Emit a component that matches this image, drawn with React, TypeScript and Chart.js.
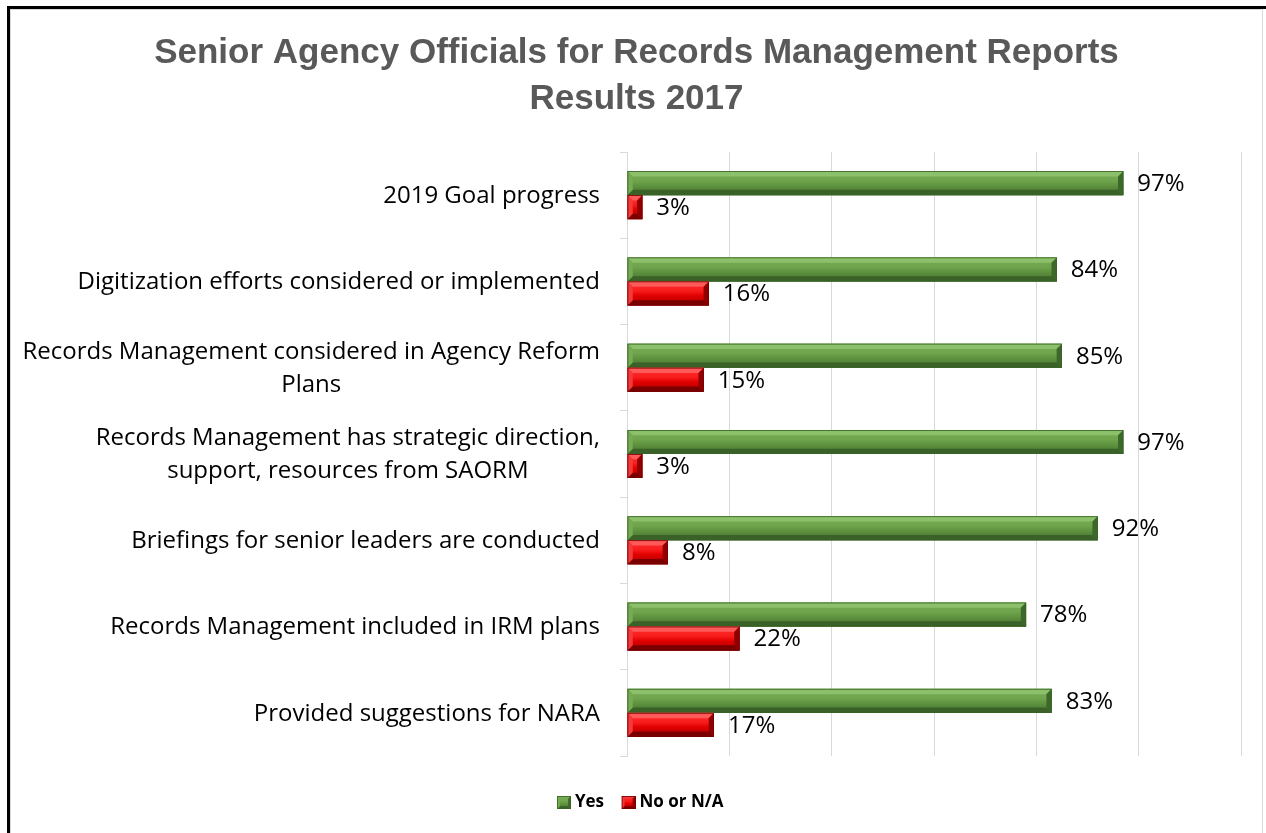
import React, { useEffect, useRef } from 'react';
import { Chart, registerables } from 'chart.js';

Chart.register(...registerables);

const titleLines = ['Senior Agency Officials for Records Management Reports', 'Results 2017'];
const categories: string[][] = [
  ['2019 Goal progress'],
  ['Digitization efforts considered or implemented'],
  ['Records Management considered in Agency Reform', 'Plans'],
  ['Records Management has strategic direction,', 'support, resources from SAORM'],
  ['Briefings for senior leaders are conducted'],
  ['Records Management included in IRM plans'],
  ['Provided suggestions for NARA'],
];
const seriesNames = ['Yes', 'No or N/A'];
const yesValues = [97, 84, 85, 97, 92, 78, 83];
const noValues = [3, 16, 15, 3, 8, 22, 17];
const xMin = 0;
const xMax = 120;
const xStep = 20;

type Pal = {
  top: string; hi: string; face: string; bottom: string;
  bevTop: string; bevBottom: string; bevLeft: string; bevRight: string; edge: string;
};

const greenPal: Pal = {
  top: '#78ad55', hi: '#6fa44d', face: '#5f933f', bottom: '#456f30',
  bevTop: '#8cc06a', bevBottom: '#3a6228', bevLeft: '#76aa53', bevRight: '#3d672b', edge: '#3a6326',
};
const redPal: Pal = {
  top: '#ff3030', hi: '#f81c1c', face: '#e00000', bottom: '#a80000',
  bevTop: '#ff5a5a', bevBottom: '#7a0000', bevLeft: '#f23a3a', bevRight: '#900000', edge: '#730000',
};
const pals = [greenPal, redPal];

function drawBevel(ctx: CanvasRenderingContext2D, L: number, T: number, W: number, H: number, p: Pal) {
  if (W <= 0 || H <= 0) return;
  const b = Math.min(H * 0.22, W / 2);
  ctx.save();
  const g = ctx.createLinearGradient(0, T, 0, T + H);
  g.addColorStop(0, p.top);
  g.addColorStop(0.4, p.hi);
  g.addColorStop(0.6, p.face);
  g.addColorStop(1, p.bottom);
  ctx.fillStyle = g;
  ctx.fillRect(L, T, W, H);
  const poly = (pts: number[][], c: string) => {
    ctx.beginPath();
    ctx.moveTo(pts[0][0], pts[0][1]);
    for (let i = 1; i < pts.length; i++) ctx.lineTo(pts[i][0], pts[i][1]);
    ctx.closePath();
    ctx.fillStyle = c;
    ctx.fill();
  };
  const R = L + W, B = T + H;
  poly([[L, T], [R, T], [R - b, T + b], [L + b, T + b]], p.bevTop);
  poly([[L, B], [R, B], [R - b, B - b], [L + b, B - b]], p.bevBottom);
  poly([[L, T], [L + b, T + b], [L + b, B - b], [L, B]], p.bevLeft);
  poly([[R, T], [R - b, T + b], [R - b, B - b], [R, B]], p.bevRight);
  ctx.strokeStyle = p.edge;
  ctx.lineWidth = 0.8;
  ctx.strokeRect(L + 0.4, T + 0.4, W - 0.8, H - 0.8);
  ctx.restore();
}

function makeIcon(p: Pal): HTMLCanvasElement {
  const c = document.createElement('canvas');
  c.width = 26;
  c.height = 13;
  const ctx = c.getContext('2d');
  if (ctx) drawBevel(ctx, 12, 0, 14, 13, { ...p, bevTop: p.bevLeft });
  return c;
}

const bevelPlugin = {
  id: 'bevelBars',
  afterDatasetsDraw(chart: any) {
    const ctx = chart.ctx;
    chart.data.datasets.forEach((ds: any, di: number) => {
      const meta = chart.getDatasetMeta(di);
      if (meta.hidden) return;
      meta.data.forEach((el: any) => {
        const { x, y, base, height } = el.getProps(['x', 'y', 'base', 'height'], true);
        const L = Math.min(x, base);
        const W = Math.abs(x - base);
        drawBevel(ctx, L, y - height / 2, W, height, pals[di]);
      });
    });
  },
};

const valueLabelPlugin = {
  id: 'valueLabels',
  afterDatasetsDraw(chart: any) {
    const ctx = chart.ctx;
    ctx.save();
    ctx.font = '24px "Open Sans", sans-serif';
    ctx.fillStyle = '#000000';
    ctx.textAlign = 'left';
    ctx.textBaseline = 'middle';
    chart.data.datasets.forEach((ds: any, di: number) => {
      const meta = chart.getDatasetMeta(di);
      meta.data.forEach((el: any, i: number) => {
        const { x, y } = el.getProps(['x', 'y'], true);
        ctx.fillText(ds.data[i] + '%', x + 14, y + 1);
      });
    });
    ctx.restore();
  },
};

const categoryLabelPlugin = {
  id: 'categoryLabels',
  afterDraw(chart: any) {
    const ctx = chart.ctx;
    const yScale = chart.scales.y;
    const right = chart.chartArea.left - 27;
    const lineH = 33;
    ctx.save();
    ctx.font = '24px "Open Sans", sans-serif';
    ctx.fillStyle = '#000000';
    ctx.textAlign = 'center';
    ctx.textBaseline = 'middle';
    categories.forEach((lines, i) => {
      const cy = yScale.getPixelForValue(i) + 1;
      const maxW = Math.max(...lines.map((l) => ctx.measureText(l).width));
      const cx = right - maxW / 2;
      const y0 = cy - ((lines.length - 1) * lineH) / 2;
      lines.forEach((l, k) => ctx.fillText(l, cx, y0 + k * lineH));
    });
    ctx.restore();
  },
};

export default function App() {
  const ref = useRef<HTMLCanvasElement | null>(null);

  useEffect(() => {
    if (!ref.current) return;
    const icons = [makeIcon(greenPal), makeIcon(redPal)];
    const chart = new Chart(ref.current, {
      type: 'bar',
      data: {
        labels: categories.map((c) => c.join(' ')),
        datasets: [
          { label: seriesNames[0], data: yesValues, backgroundColor: greenPal.face, borderWidth: 0, categoryPercentage: 0.556, barPercentage: 1 },
          { label: seriesNames[1], data: noValues, backgroundColor: redPal.face, borderWidth: 0, categoryPercentage: 0.556, barPercentage: 1 },
        ],
      },
      options: {
        indexAxis: 'y',
        animation: false,
        responsive: false,
        maintainAspectRatio: false,
        layout: { padding: { left: 22, right: 22, top: 0, bottom: 12 } },
        scales: {
          x: {
            min: xMin,
            max: xMax,
            ticks: { display: false, stepSize: xStep },
            grid: { color: '#d9d9d9', drawTicks: false, lineWidth: 1 },
            border: { display: false },
            afterFit: (s: any) => { s.height = 28; },
          },
          y: {
            ticks: { display: false },
            grid: { drawOnChartArea: false, tickLength: 7, color: '#d9d9d9', offset: true },
            border: { display: true, color: '#d9d9d9', width: 1 },
            afterFit: (s: any) => { s.width = 595; },
          },
        },
        plugins: {
          title: {
            display: true,
            text: titleLines,
            color: '#595959',
            font: { family: '"Liberation Sans", Arial, sans-serif', size: 35, weight: 'bold', lineHeight: 1.3 },
            padding: { top: 22, bottom: 30 },
          },
          legend: {
            position: 'bottom',
            labels: {
              usePointStyle: true,
              color: '#595959',
              font: { family: '"Open Sans", sans-serif', size: 17, weight: 'bold' },
              padding: 10,
              generateLabels: (ch: any) =>
                ch.data.datasets.map((ds: any, i: number) => ({
                  text: ds.label,
                  fillStyle: ds.backgroundColor,
                  strokeStyle: ds.backgroundColor,
                  lineWidth: 0,
                  pointStyle: icons[i],
                  hidden: false,
                  datasetIndex: i,
                })),
            },
          },
          tooltip: { enabled: false },
        },
      },
      plugins: [bevelPlugin, valueLabelPlugin, categoryLabelPlugin],
    });
    return () => chart.destroy();
  }, []);

  return (
    <div style={{ position: 'fixed', left: 0, top: 0, width: 1266, height: 833, background: '#ffffff', overflow: 'hidden' }}>
      <div style={{ position: 'absolute', left: 7, top: 6, width: 1262, height: 850, border: '3px solid #000', boxSizing: 'border-box' }} />
      <div style={{ position: 'absolute', left: 10, top: 9, width: 1253, height: 840, border: '1px solid #d9d9d9', boxSizing: 'border-box' }} />
      <canvas ref={ref} width={1253} height={824} style={{ position: 'absolute', left: 10, top: 9, width: 1253, height: 824 }} />
    </div>
  );
}
